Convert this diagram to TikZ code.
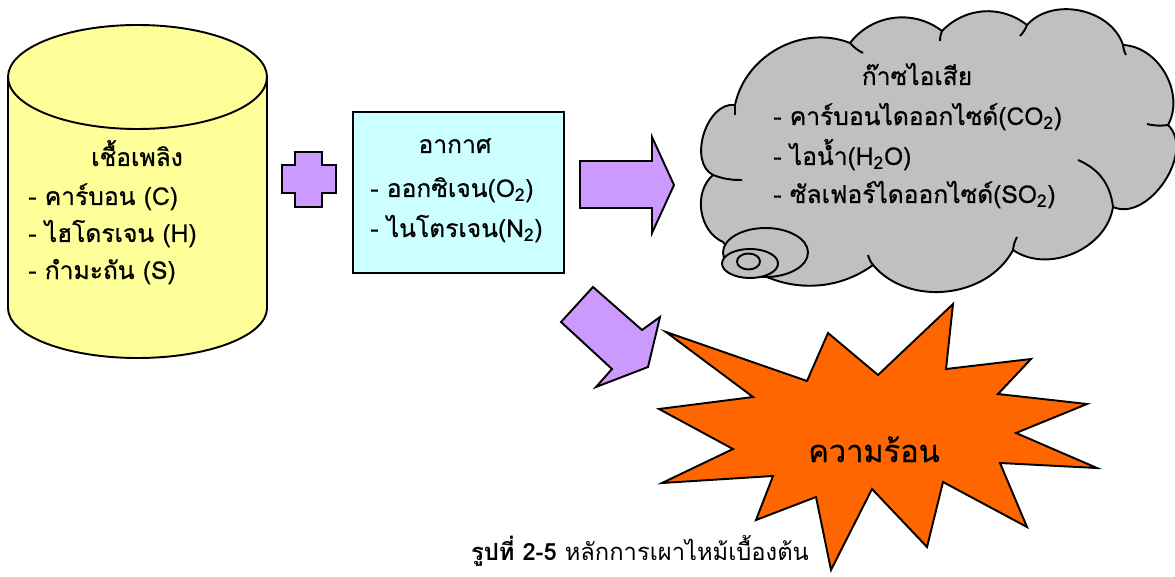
\documentclass[tikz,border=0pt]{standalone}
\usepackage{fontspec}
\setmainfont{Loma}[Script=Thai]
\newfontfamily\dfont{Loma}[Script=Thai,FakeBold=0.7]
\definecolor{fuel}{HTML}{FFFF99}
\definecolor{airc}{HTML}{CCFFFF}
\definecolor{purp}{HTML}{CC99FF}
\definecolor{cloudgray}{HTML}{C0C0C0}
\definecolor{heat}{HTML}{FF6600}
\begin{document}
\begin{tikzpicture}[x=0.02cm,y=-0.02cm,
  outl/.style={draw=black,line width=1.1pt,line join=miter},
  txt/.style={inner sep=0pt,font=\dfont\fontsize{14}{17}\selectfont},
  bigtxt/.style={inner sep=0pt,font=\dfont\fontsize{17.5}{21}\selectfont},
  captxt/.style={inner sep=0pt,font=\fontsize{13.5}{16}\selectfont}]
\useasboundingbox (0,0) rectangle (1175,577);
\clip (0,0) rectangle (1175,577);

% cylinder (fuel)
\fill[fuel] (8,77) rectangle (267,308);
\draw[outl,fill=fuel] (137.5,308) ellipse [x radius=129.5,y radius=50];
\fill[fuel] (8,77) rectangle (267,308);
\draw[outl] (8,77) -- (8,308) (267,77) -- (267,308);
\draw[outl,fill=fuel] (137.5,77) ellipse [x radius=129.5,y radius=52];
\node[txt,anchor=base] (fuelT) at (137,166) {เชื้อเพลิง};
\node[txt,anchor=base west] (fuelA) at (28,205) {- คาร์บอน (C)};
\node[txt,anchor=base west] (fuelB) at (28,242) {- ไฮโดรเจน (H)};
\node[txt,anchor=base west] (fuelC) at (28,279) {- กำมะถัน (S)};

% plus
\draw[outl,fill=purp] (295,152) -- (322,152) -- (322,165) -- (336,165) -- (336,193) -- (322,193) -- (322,207) -- (295,207) -- (295,193) -- (282,193) -- (282,165) -- (295,165) -- cycle;

% air box
\draw[outl,fill=airc] (353,112) rectangle (564,273);
\node[txt,anchor=base] (airT) at (455,153) {อากาศ};
\node[txt,anchor=base west] (airA) at (370,197) {- ออกซิเจน(O\textsubscript{2})};
\node[txt,anchor=base west] (airB) at (370,237) {- ไนโตรเจน(N\textsubscript{2})};

% right arrow
\draw[outl,fill=purp] (580,161) -- (652,161) -- (652,137) -- (674,185) -- (652,233) -- (652,208) -- (580,208) -- cycle;

% diagonal arrow
\draw[outl,fill=purp] (593,287) -- (642,330) -- (660,317) -- (648,367) -- (596,387) -- (612,369) -- (561,322) -- cycle;

% cloud
\draw[outl,fill=cloudgray] (735,105) to[bend left=50] (850,43) to[bend left=45] (942,31)
  to[bend left=42] (1027,25) to[bend left=60] (1123,45) to[bend left=58] (1168,125)
  to[bend left=80] (1113,207) to[bend left=58] (1013,250) to[bend left=56] (873,265)
  to[bend left=45] (723,242) to[bend left=58] (713,175) to[bend left=80] (735,105) -- cycle;
\draw[outl] (735,105) -- (735,115);
\draw[outl] (850,43) to[bend right=10] (863,53);
\draw[outl] (942,31) to[bend right=10] (940,41);
\draw[outl] (1027,25) to[bend left=10] (1020,36);
\draw[outl] (1123,45) to[bend right=10] (1126,55);
\draw[outl] (1168,125) to[bend left=10] (1147,124);
\draw[outl] (1113,207) to[bend right=30] (1078,160);
\draw[outl] (1013,250) to[bend left=10] (1017,237);
\draw[outl] (873,265) to[bend left=10] (868,255);
\draw[outl] (713,175) to[bend right=10] (742,180);
\draw[outl,fill=cloudgray] (765.5,252.5) ellipse [x radius=42.5,y radius=24.5];
\draw[outl,fill=cloudgray] (750,263.5) ellipse [x radius=28,y radius=14.5];
\draw[outl,fill=cloudgray] (748.5,261.5) ellipse [x radius=11.5,y radius=8];
\node[txt,anchor=base] (gasT) at (917,85) {ก๊าซไอเสีย};
\node[txt,anchor=base west] (gasA) at (773,125) {- คาร์บอนไดออกไซด์(CO\textsubscript{2})};
\node[txt,anchor=base west] (gasB) at (773,165) {- ไอน้ำ(H\textsubscript{2}O)};
\node[txt,anchor=base west] (gasC) at (773,203) {- ซัลเฟอร์ไดออกไซด์(SO\textsubscript{2})};

% star (heat)
\draw[outl,fill=heat] (666,332) -- (807,381) -- (828,333) -- (878,375) -- (953,304) -- (946,369)
  -- (1031,359) -- (998,394) -- (1087,404) -- (1016,433) -- (1097,468) -- (1000,463)
  -- (1027,527) -- (943,482) -- (927,547) -- (872,489) -- (831,570) -- (816,497)
  -- (756,520) -- (773,476) -- (662,483) -- (733,449) -- (659,409) -- (753,397) -- cycle;
\node[bigtxt,anchor=base] (heatT) at (874,462) {ความร้อน};

% caption
\node[captxt,anchor=base] (cap) at (640,560) {\textbf{รูปที่ 2-5} หลักการเผาไหม้เบื้องต้น};
\end{tikzpicture}
\end{document}
